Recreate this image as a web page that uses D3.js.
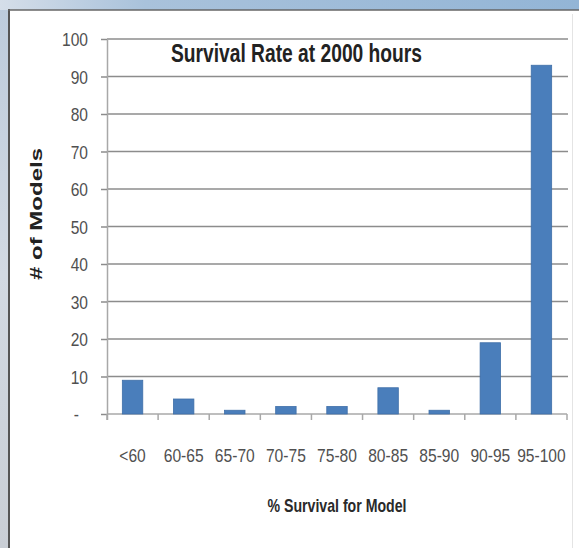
<!DOCTYPE html>
<html>
<head>
<meta charset="utf-8">
<script src="https://cdn.jsdelivr.net/npm/d3@7"></script>
<style>
  html, body { margin: 0; padding: 0; background: #fff; }
  svg { display: block; }
</style>
</head>
<body>
<svg id="chart" width="579" height="548"></svg>
<script>
// ---- data ----
const categories = ["<60", "60-65", "65-70", "70-75", "75-80", "80-85", "85-90", "90-95", "95-100"];
const modelCounts = [9, 4, 1, 2, 2, 7, 1, 19, 93];
const yTickValues = [0, 10, 20, 30, 40, 50, 60, 70, 80, 90, 100];
const titleText = "Survival Rate at 2000 hours";
const xTitleText = "% Survival for Model";
const yTitleText = "# of Models";

const W = 579, H = 548;
const svg = d3.select("#chart");
const defs = svg.append("defs");

// background gradients (slide backdrop)
const gTop = defs.append("linearGradient").attr("id", "gTop").attr("x1", 0).attr("x2", 1).attr("y1", 0).attr("y2", 0);
gTop.append("stop").attr("offset", 0).attr("stop-color", "#d5dee9");
gTop.append("stop").attr("offset", 0.25).attr("stop-color", "#a9c2db");
gTop.append("stop").attr("offset", 1).attr("stop-color", "#93b5d6");
const gLeft = defs.append("linearGradient").attr("id", "gLeft").attr("x1", 0).attr("x2", 0).attr("y1", 0).attr("y2", 1);
gLeft.append("stop").attr("offset", 0).attr("stop-color", "#bccbdc");
gLeft.append("stop").attr("offset", 0.5).attr("stop-color", "#d2d9e2");
gLeft.append("stop").attr("offset", 1).attr("stop-color", "#c9ced5");

svg.append("rect").attr("x", 0).attr("y", 0).attr("width", W).attr("height", H).attr("fill", "url(#gLeft)");
svg.append("rect").attr("x", 0).attr("y", 0).attr("width", W).attr("height", 10).attr("fill", "url(#gTop)");

// white panel
svg.append("rect").attr("x", 9).attr("y", 10).attr("width", W - 9).attr("height", H - 10).attr("fill", "#ffffff");
svg.append("line").attr("x1", 9).attr("x2", 9).attr("y1", 9).attr("y2", H).attr("stroke", "#555").attr("stroke-width", 2);
svg.append("line").attr("x1", 8).attr("x2", W).attr("y1", 10).attr("y2", 10).attr("stroke", "#666").attr("stroke-width", 1.5);
svg.append("line").attr("x1", 572.5).attr("x2", 572.5).attr("y1", 14).attr("y2", H).attr("stroke", "#e4e4e4").attr("stroke-width", 1);

// scales
const plotL = 107, plotR = 567, plotT = 39, plotB = 414;
const x = d3.scaleBand().domain(categories).range([plotL, plotR]).paddingInner(0.6).paddingOuter(0.3);
const y = d3.scaleLinear().domain([0, 100]).range([plotB, plotT]);

const labelFont = "'Liberation Sans Narrow', 'Liberation Sans', Arial, sans-serif";

function squeeze(sel, k) {
  sel.each(function () {
    const len = this.getComputedTextLength();
    d3.select(this).attr("textLength", (len * k).toFixed(1)).attr("lengthAdjust", "spacingAndGlyphs");
  });
}

// gridlines
svg.append("g").selectAll("line").data(yTickValues.filter(d => d > 0)).join("line")
  .attr("x1", plotL).attr("x2", 568)
  .attr("y1", d => y(d)).attr("y2", d => y(d))
  .attr("stroke", "#8c8c8c").attr("stroke-width", 1.5);

// y axis
const yAxis = svg.append("g").attr("transform", `translate(${plotL},0)`)
  .call(d3.axisLeft(y).tickValues(yTickValues).tickSize(6).tickPadding(12)
    .tickFormat(d => d === 0 ? "-" : d3.format("d")(d)));
yAxis.select(".domain").attr("stroke", "#a8a8a8").attr("stroke-width", 1.5)
  .attr("d", `M0.5,${plotT}V${plotB + 6}`);
yAxis.selectAll(".tick line").attr("stroke", "#8c8c8c").attr("stroke-width", 1.5);
yAxis.selectAll(".tick text")
  .attr("font-family", labelFont).attr("font-size", 19).attr("fill", "#505050")
  .attr("dy", "0.36em")
  .attr("x", d => d === 0 ? -28 : -19);
squeeze(yAxis.selectAll(".tick text"), 0.82);

// x axis line + boundary ticks
svg.append("line").attr("x1", plotL).attr("x2", plotR).attr("y1", plotB).attr("y2", plotB)
  .attr("stroke", "#a8a8a8").attr("stroke-width", 1.5);
svg.append("g").selectAll("line").data(d3.range(categories.length + 1)).join("line")
  .attr("x1", i => plotL + i * x.step()).attr("x2", i => plotL + i * x.step())
  .attr("y1", plotB).attr("y2", plotB + 6)
  .attr("stroke", "#a8a8a8").attr("stroke-width", 1.5);

// x labels
const xAxis = svg.append("g").attr("transform", `translate(0,${plotB})`)
  .call(d3.axisBottom(x).tickSize(0).tickPadding(0));
xAxis.select(".domain").remove();
xAxis.selectAll(".tick text")
  .attr("font-family", labelFont).attr("font-size", 19).attr("fill", "#505050")
  .attr("y", 48).attr("dy", 0);
squeeze(xAxis.selectAll(".tick text"), 0.82);

// bars
svg.append("g").selectAll("rect").data(categories).join("rect")
  .attr("x", d => x(d)).attr("width", x.bandwidth())
  .attr("y", (d, i) => y(modelCounts[i]))
  .attr("height", (d, i) => plotB - y(modelCounts[i]))
  .attr("fill", "#4a7ebb").attr("stroke", "#3f6fa8").attr("stroke-width", 0.8);

// title
svg.append("text").attr("x", 171).attr("y", 62)
  .attr("font-family", labelFont).attr("font-weight", "bold").attr("font-size", 25)
  .attr("fill", "#222").attr("textLength", 251).attr("lengthAdjust", "spacingAndGlyphs")
  .text(titleText);

// x title
svg.append("text").attr("x", (plotL + plotR) / 2).attr("y", 512).attr("text-anchor", "middle")
  .attr("font-family", labelFont).attr("font-weight", "bold").attr("font-size", 19)
  .attr("fill", "#2a2a2a").attr("textLength", 139).attr("lengthAdjust", "spacingAndGlyphs")
  .text(xTitleText);

// y title
svg.append("text").attr("transform", "translate(42,214) rotate(-90)").attr("text-anchor", "middle")
  .attr("font-family", "'Liberation Sans', Arial, sans-serif").attr("font-weight", "bold").attr("font-size", 16)
  .attr("fill", "#222").attr("textLength", 132).attr("lengthAdjust", "spacingAndGlyphs")
  .text(yTitleText);
</script>
</body>
</html>
